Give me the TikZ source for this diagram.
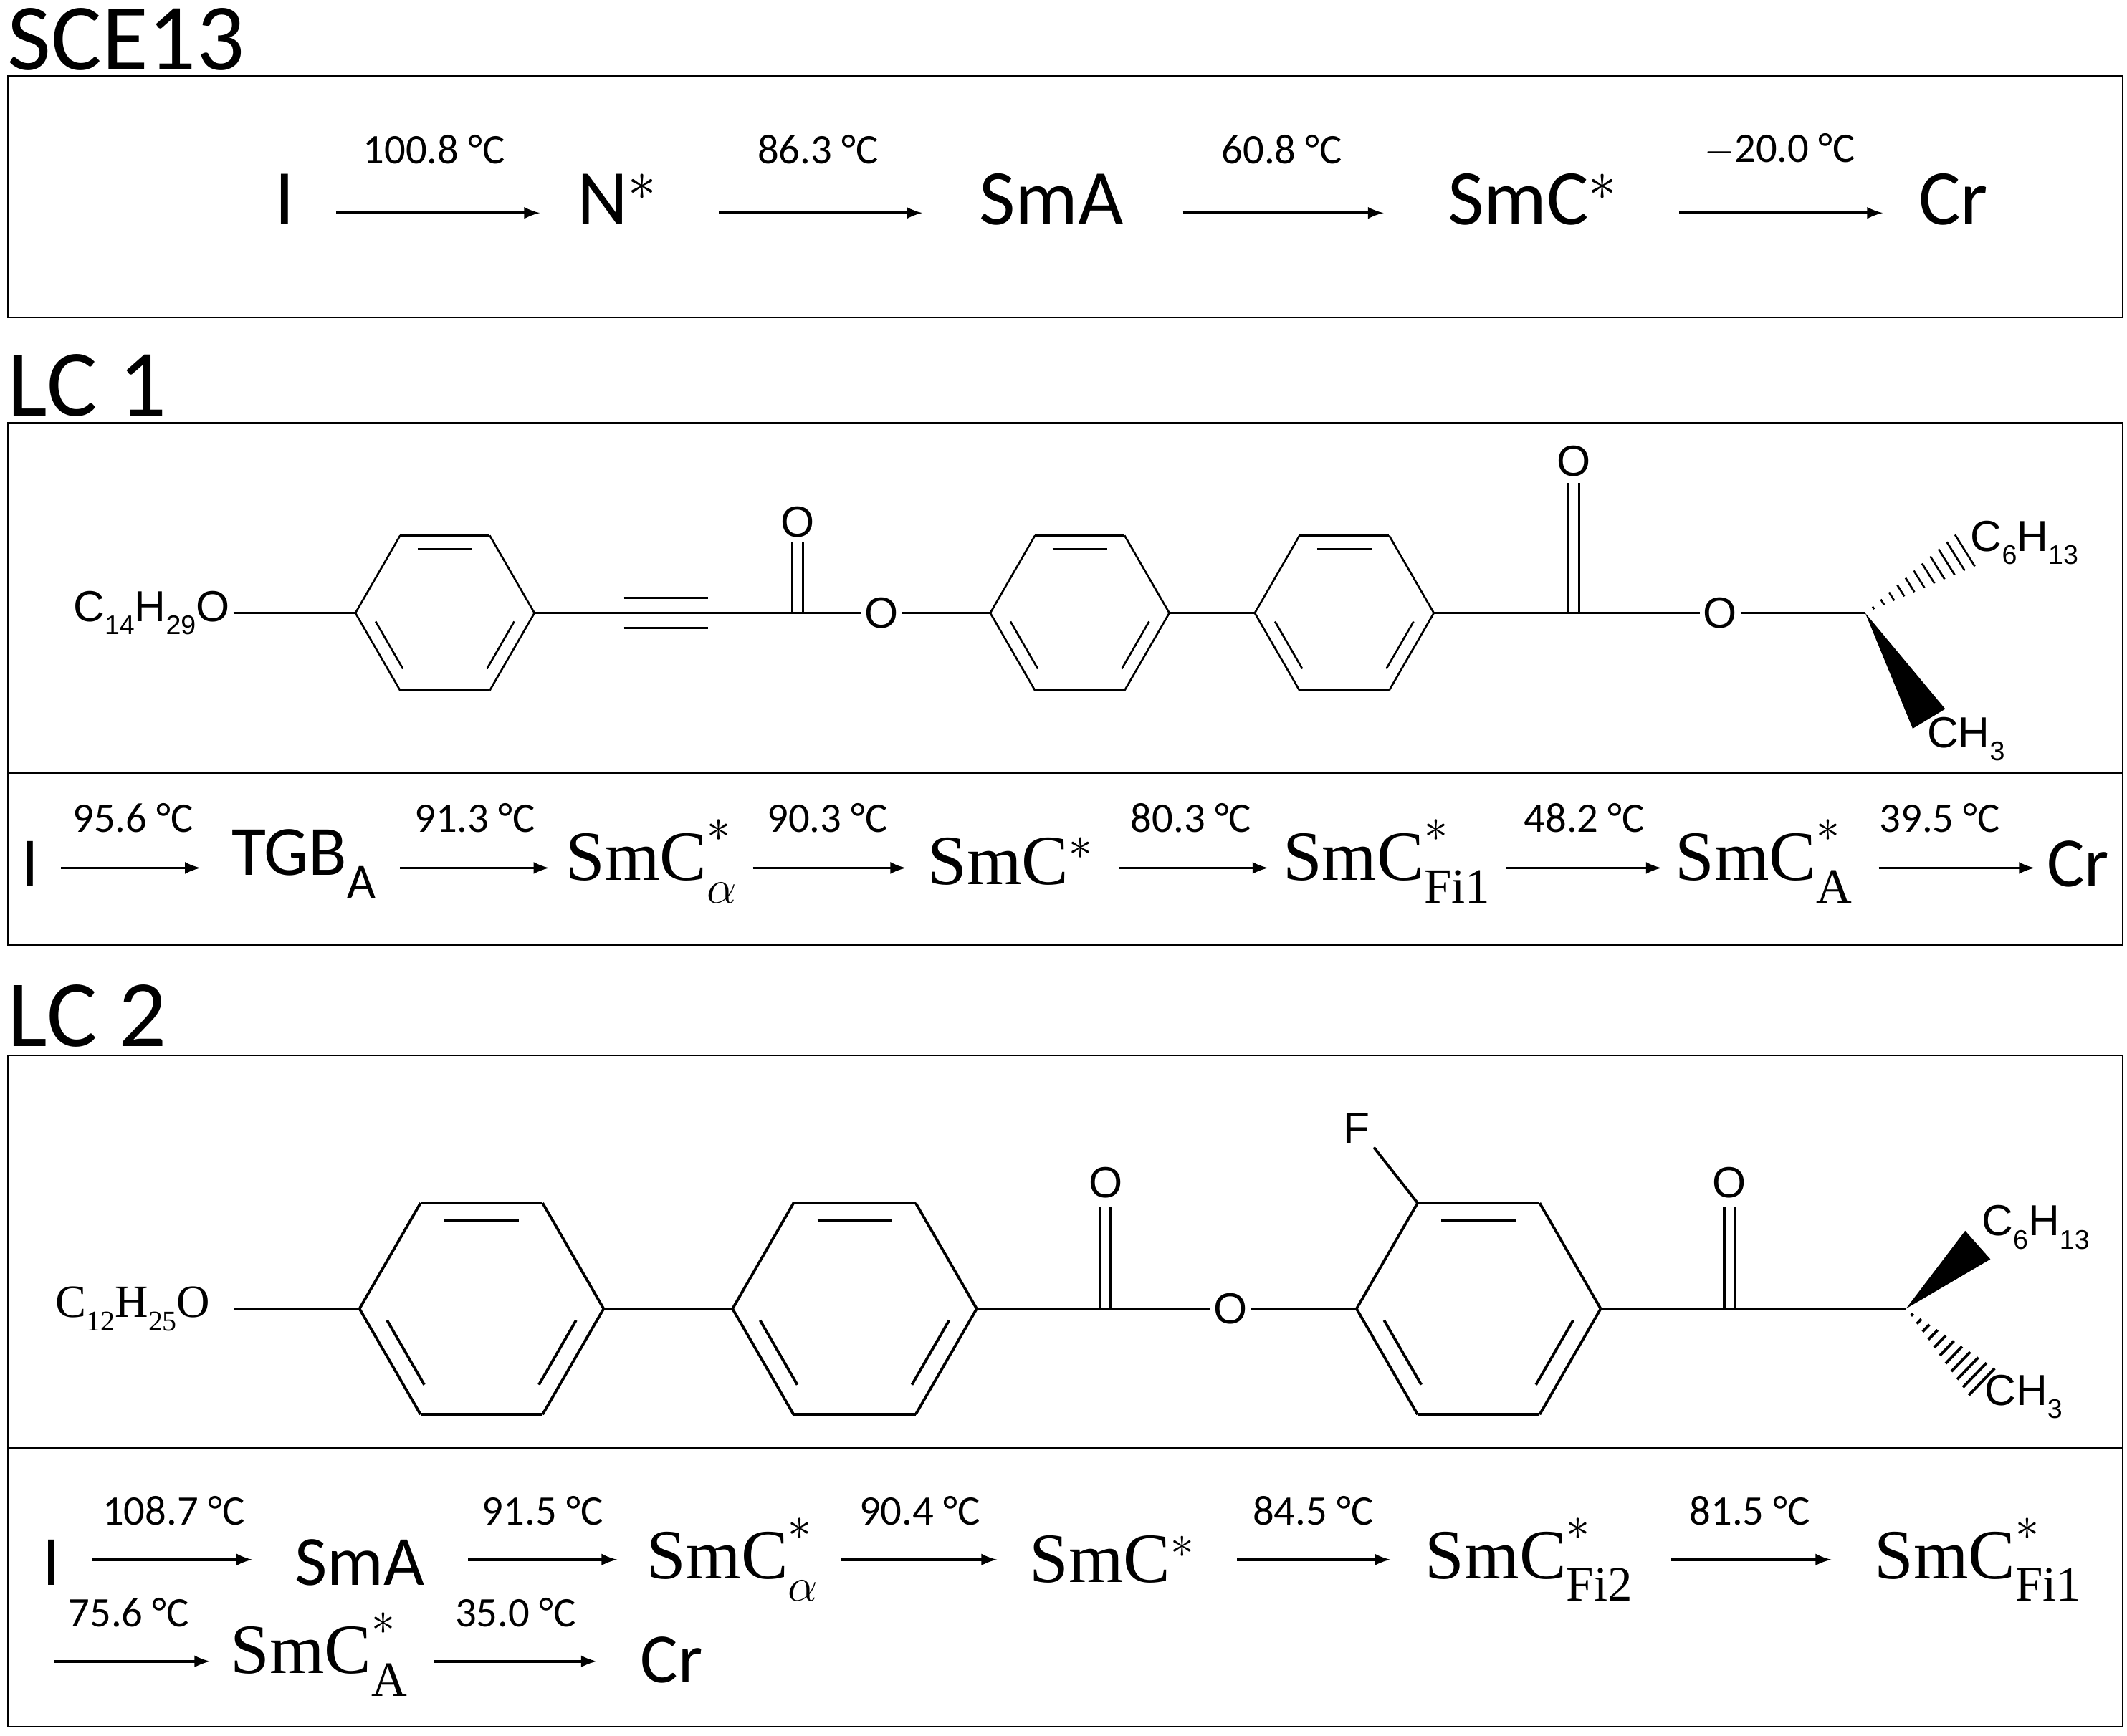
\documentclass[tikz,border=0pt]{standalone}
\usepackage{fontspec}
\setmainfont{Carlito}
\newfontfamily\chemserif{Liberation Serif}
\newfontfamily\chemsans{Liberation Sans}
\usetikzlibrary{calc}
\newcommand\hexring[3]{%
 \foreach \i in {0,...,5}{\draw ({#1+#3*cos(60*\i)},{#2+#3*sin(60*\i)}) -- ({#1+#3*cos(60*\i+60)},{#2+#3*sin(60*\i+60)});}
 \foreach \i in {0,2,4}{\draw ({#1+0.78*#3*cos(60*\i+7)},{#2+0.78*#3*sin(60*\i+7)}) -- ({#1+0.78*#3*cos(60*\i+53)},{#2+0.78*#3*sin(60*\i+53)});}}
\newcommand\hashwedge[5]{%
 \foreach \t in {0.08,0.17,...,1.0}{%
  \draw let \p1=($(#3,#4)-(#1,#2)$), \n1={veclen(\x1,\y1)} in
   ($(#1,#2)!\t!(#3,#4)+(\t*#5*\y1/\n1,-\t*#5*\x1/\n1)$) -- ($(#1,#2)!\t!(#3,#4)-(\t*#5*\y1/\n1,-\t*#5*\x1/\n1)$);}}
\newcommand\solidwedge[5]{%
 \fill let \p1=($(#3,#4)-(#1,#2)$), \n1={veclen(\x1,\y1)} in
   (#1,#2) -- ($(#3,#4)+(#5*\y1/\n1,-#5*\x1/\n1)$) -- ($(#3,#4)-(#5*\y1/\n1,-#5*\x1/\n1)$) -- cycle;}
\newcommand\sub[1]{\raisebox{-0.3em}{\scalebox{0.62}{#1}}}
\newcommand\ssub[1]{\raisebox{-0.32em}{\scalebox{0.7}{#1}}}
\newcommand\smc[1]{SmC\makebox[0pt][l]{\raisebox{0.55em}{\scalebox{0.7}{$*$}}}\ssub{#1}}
\begin{document}
\begin{tikzpicture}[x=0.5pt,y=-0.5pt,line width=1pt,
 box/.style={draw,line width=0.6pt},
 ttl/.style={anchor=west,font=\fontsize{35}{35}\selectfont},
 st/.style={font=\fontsize{29}{29}\selectfont},
 st2/.style={font=\fontsize{26}{26}\selectfont},
 lab/.style={font=\fontsize{15.5}{15.5}\selectfont},
 ar/.style={-latex,line width=1pt},
 atom/.style={inner sep=1pt,font=\chemsans\fontsize{16}{16}\selectfont},
 atomS/.style={inner sep=1pt,font=\chemserif\fontsize{17}{17}\selectfont}]
\useasboundingbox (0,0) rectangle (1568,1280);
% SCE13
\node[ttl] (t1) at (-2,29) {SCE13};
\draw[box] (6,56) rectangle (1565,234);
\foreach \n/\x/\txt in {a/210/I,b/455/N$^{*}$,c/775/SmA,d/1130/SmC$^{*}$,e/1440/Cr}
  \node[st] (s\n) at (\x,147) {\txt};
\foreach \a/\b/\lx/\l in {248/398/320/100.8 °C,530/680/603/86.3 °C,872/1020/945/60.8 °C,1238/1388/1312/$-$20.0 °C}{
  \coordinate (p\a) at (\a,157); \coordinate (q\a) at (\b,157);
  \draw[ar] (p\a) -- (q\a); \node[lab] at (\lx,110) {\l};}
% LC1
\node[ttl] (t2) at (-2,284) {LC 1};
\draw[box] (6,312) rectangle (1565,697);
\draw[line width=0.6pt] (6,570) -- (1565,570);
\begin{scope}[line width=0.7pt]
\node[atom,anchor=east] (o1) at (172,452) {C\sub{14}H\sub{29}O};
\draw (o1.east) -- (262,452);
\hexring{328}{452}{66}
\draw (394,452) -- (460,452);
\draw (460,452) -- (522,452) (460,441) -- (522,441) (460,463) -- (522,463);
\draw (522,452) -- (588,452);
\node[atom] (ox1) at (588,385) {O};
\draw (584,452) -- (584,400) (592,452) -- (592,400);
\node[atom] (o2) at (650,452) {O};
\draw (588,452) -- (o2.west) (o2.east) -- (730,452);
\hexring{796}{452}{66}
\draw (862,452) -- (925,452);
\hexring{991}{452}{66}
\draw (1057,452) -- (1160,452);
\node[atom] (ox2) at (1160,340) {O};
\draw (1156,452) -- (1156,356) (1164,452) -- (1164,356);
\node[atom] (o3) at (1268,452) {O};
\draw (1160,452) -- (o3.west) (o3.east) -- (1375,452);
\hashwedge{1375}{452}{1450}{405}{7}
\solidwedge{1375}{452}{1422}{530}{7}
\node[atom,anchor=west] at (1450,400) {C\sub{6}H\sub{13}};
\node[atom,anchor=west] at (1418,545) {CH\sub{3}};
\end{scope}
\node[st2] (l1a) at (22,637) {I};
\node[st2] (l1b) at (224,637) {TGB\ssub{A}};
\node[st2] (l1c) at (480,635) {\chemserif\smc{$\alpha$}};
\node[st2] (l1d) at (745,635) {\chemserif SmC$^{*}$};
\node[st2] (l1e) at (1022,635) {\chemserif\smc{Fi1}};
\node[st2] (l1f) at (1300,635) {\chemserif\smc{A}};
\node[st2] (l1g) at (1532,637) {Cr};
\foreach \a/\b/\lx/\l in {45/148/98/95.6 °C,295/405/350/91.3 °C,555/668/610/90.3 °C,825/935/878/80.3 °C,1110/1225/1168/48.2 °C,1385/1500/1430/39.5 °C}{
  \coordinate (r\a) at (\a,640); \coordinate (w\a) at (\b,640);
  \draw[ar] (r\a) -- (w\a); \node[lab] at (\lx,603) {\l};}
% LC2
\node[ttl] (t3) at (-2,749) {LC 2};
\draw[box] (6,778) rectangle (1565,1273);
\draw[line width=0.6pt] (6,1068) -- (1565,1068);
\begin{scope}[line width=1pt]
\node[atomS,anchor=east] (o4) at (158,965) {C\sub{12}H\sub{25}O};
\draw (172,965) -- (265,965);
\hexring{355}{965}{90}
\draw (445,965) -- (540,965);
\hexring{630}{965}{90}
\draw (720,965) -- (815,965);
\node[atom] (ox3) at (815,872) {O};
\draw (811,965) -- (811,890) (819,965) -- (819,890);
\node[atom] (o5) at (907,965) {O};
\draw (815,965) -- (o5.west) (o5.east) -- (1000,965);
\hexring{1090}{965}{90}
\node[atom] (f) at (1000,832) {F};
\draw (1045,887) -- (f.south east);
\draw (1180,965) -- (1275,965);
\node[atom] (ox4) at (1275,872) {O};
\draw (1271,965) -- (1271,890) (1279,965) -- (1279,890);
\draw (1275,965) -- (1405,965);
\solidwedge{1405}{965}{1458}{918}{7}
\hashwedge{1405}{965}{1462}{1020}{7}
\node[atom,anchor=west] at (1458,905) {C\sub{6}H\sub{13}};
\node[atom,anchor=west] at (1460,1030) {CH\sub{3}};
\end{scope}
\node[st2] (m1) at (38,1152) {I};
\node[st2] (m2) at (265,1152) {SmA};
\node[st2] (m3) at (540,1150) {\chemserif\smc{$\alpha$}};
\node[st2] (m4) at (820,1150) {\chemserif SmC$^{*}$};
\node[st2] (m5) at (1127,1150) {\chemserif\smc{Fi2}};
\node[st2] (m6) at (1458,1150) {\chemserif\smc{Fi1}};
\node[st2] (m7) at (235,1220) {\chemserif\smc{A}};
\node[st2] (m8) at (495,1224) {Cr};
\foreach \a/\b/\y/\lx/\l in {68/186/1150/128/108.7 °C,345/455/1150/400/91.5 °C,620/735/1150/678/90.4 °C,912/1025/1150/968/84.5 °C,1232/1350/1150/1290/81.5 °C,40/155/1225/95/75.6 °C,320/440/1225/380/35.0 °C}{
  \coordinate (u\a\y) at (\a,\y); \coordinate (v\a\y) at (\b,\y);
  \draw[ar] (u\a\y) -- (v\a\y); \node[lab] at (\lx,\y-36) {\l};}
\end{tikzpicture}
\end{document}
